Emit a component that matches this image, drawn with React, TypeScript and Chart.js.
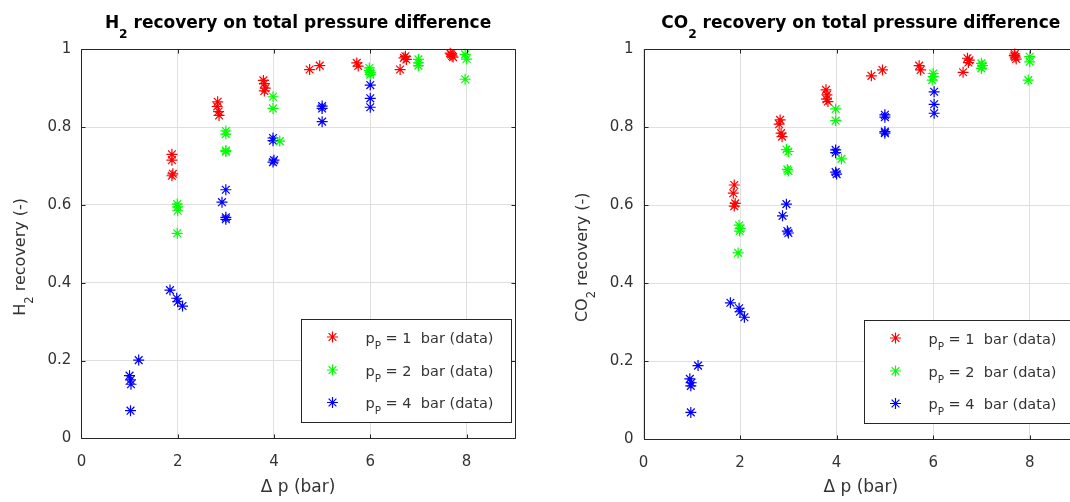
import React, { useEffect, useRef } from "react";
import { Chart, registerables } from "chart.js";

Chart.register(...registerables);

// ---------- data ----------
const xTickValues = [0, 2, 4, 6, 8];
const yTickValues = [0, 0.2, 0.4, 0.6, 0.8, 1];
const seriesColors = ["#ff0000", "#00ff00", "#0000ff"];
const permeatePressures = ["1", "2", "4"];

// H2 recovery, p_P = 1 bar
const h2P1Dp = [1.88, 1.88, 1.9, 1.88, 2.83, 2.82, 2.85, 2.86, 3.78, 3.8, 3.82, 3.8, 4.74, 4.95, 5.72, 5.75, 6.62, 6.73, 6.75, 6.7, 7.66, 7.7, 7.68, 7.72];
const h2P1Rec = [0.73, 0.715, 0.68, 0.675, 0.865, 0.853, 0.84, 0.83, 0.92, 0.912, 0.9, 0.893, 0.948, 0.958, 0.965, 0.957, 0.948, 0.982, 0.974, 0.978, 0.99, 0.983, 0.987, 0.98];
// H2 recovery, p_P = 2 bar
const h2P2Dp = [1.99, 2.0, 2.0, 1.99, 3.0, 3.0, 3.0, 3.0, 3.98, 3.98, 4.12, 5.98, 6.0, 5.98, 6.0, 7.0, 7.0, 7.0, 7.97, 8.0, 7.97];
const h2P2Rec = [0.602, 0.595, 0.585, 0.527, 0.79, 0.782, 0.74, 0.737, 0.878, 0.848, 0.764, 0.952, 0.94, 0.945, 0.935, 0.974, 0.965, 0.958, 0.987, 0.975, 0.923];
// H2 recovery, p_P = 4 bar
const h2P4Dp = [1.0, 1.02, 1.03, 1.02, 1.19, 1.84, 1.98, 2.0, 2.1, 3.0, 2.92, 3.0, 3.0, 3.98, 3.98, 4.0, 3.98, 5.0, 5.0, 5.0, 6.0, 6.0, 6.0];
const h2P4Rec = [0.161, 0.15, 0.139, 0.071, 0.201, 0.381, 0.36, 0.351, 0.34, 0.639, 0.607, 0.568, 0.563, 0.772, 0.765, 0.715, 0.71, 0.854, 0.848, 0.814, 0.908, 0.874, 0.851];

// CO2 recovery, p_P = 1 bar
const co2P1Dp = [1.88, 1.86, 1.9, 1.88, 2.83, 2.81, 2.85, 2.87, 3.78, 3.8, 3.79, 3.82, 4.72, 4.95, 5.71, 5.74, 6.62, 6.71, 6.73, 6.75, 7.69, 7.7, 7.72, 7.68];
const co2P1Rec = [0.652, 0.631, 0.605, 0.598, 0.819, 0.808, 0.785, 0.776, 0.896, 0.883, 0.872, 0.866, 0.932, 0.947, 0.958, 0.947, 0.941, 0.977, 0.966, 0.972, 0.988, 0.98, 0.975, 0.984];
// CO2 recovery, p_P = 2 bar
const co2P2Dp = [1.98, 2.0, 1.99, 1.96, 2.96, 3.0, 2.98, 3.0, 3.98, 3.98, 4.1, 6.0, 6.0, 5.98, 7.0, 7.0, 7.02, 8.0, 8.0, 7.97];
const co2P2Rec = [0.549, 0.54, 0.534, 0.478, 0.743, 0.738, 0.692, 0.688, 0.847, 0.817, 0.719, 0.938, 0.93, 0.921, 0.964, 0.951, 0.958, 0.981, 0.968, 0.921];
// CO2 recovery, p_P = 4 bar
const co2P4Dp = [0.96, 0.98, 0.98, 1.13, 0.99, 1.8, 1.98, 2.0, 2.09, 2.96, 2.88, 2.98, 3.0, 3.98, 3.98, 3.98, 4.0, 5.0, 5.0, 5.0, 5.0, 6.02, 6.02, 6.02];
const co2P4Rec = [0.155, 0.137, 0.069, 0.189, 0.145, 0.35, 0.336, 0.327, 0.313, 0.603, 0.573, 0.534, 0.529, 0.742, 0.735, 0.685, 0.68, 0.832, 0.826, 0.789, 0.785, 0.891, 0.859, 0.836];

// ---------- styling ----------
const FONT = "'DejaVu Sans', 'Liberation Sans', Arial, sans-serif";
const AXIS_COLOR = "#262626";
const TEXT_COLOR = "#333333";
const GRID_COLOR = "#dfdfdf";

type Part = { t: string; sub?: boolean };

function measureParts(ctx: CanvasRenderingContext2D, parts: Part[], size: number, weight: string) {
  let w = 0;
  for (const p of parts) {
    ctx.font = `${weight} ${p.sub ? size * 0.72 : size}px ${FONT}`;
    w += ctx.measureText(p.t).width;
  }
  return w;
}

function drawParts(
  ctx: CanvasRenderingContext2D,
  parts: Part[],
  x: number,
  y: number,
  size: number,
  weight: string,
  align: "left" | "center",
  subDrop: number
) {
  const total = measureParts(ctx, parts, size, weight);
  let cx = align === "center" ? x - total / 2 : x;
  ctx.textAlign = "left";
  ctx.textBaseline = "alphabetic";
  for (const p of parts) {
    ctx.font = `${weight} ${p.sub ? size * 0.72 : size}px ${FONT}`;
    ctx.fillText(p.t, cx, p.sub ? y + size * subDrop : y);
    cx += ctx.measureText(p.t).width;
  }
}

function drawStar(ctx: CanvasRenderingContext2D, x: number, y: number, r: number, color: string) {
  const d = Math.cos(Math.PI / 4) * r;
  ctx.save();
  ctx.strokeStyle = color;
  ctx.lineWidth = 1.2;
  ctx.beginPath();
  ctx.moveTo(x - r, y);
  ctx.lineTo(x + r, y);
  ctx.moveTo(x, y - r);
  ctx.lineTo(x, y + r);
  ctx.moveTo(x - d, y - d);
  ctx.lineTo(x + d, y + d);
  ctx.moveTo(x - d, y + d);
  ctx.lineTo(x + d, y - d);
  ctx.stroke();
  ctx.restore();
}

const decorPlugin = {
  id: "matlabDecor",
  afterDraw(chart: any, _args: any, opts: any) {
    const ctx: CanvasRenderingContext2D = chart.ctx;
    const { left, right, top, bottom } = chart.chartArea;
    const xs = chart.scales.x;
    const ys = chart.scales.y;
    const L = Math.round(left) + 0.5;
    const R = Math.round(right) + 0.5;
    const T = Math.round(top) + 0.5;
    const B = Math.round(bottom) + 0.5;
    ctx.save();
    ctx.strokeStyle = AXIS_COLOR;
    ctx.lineWidth = 1;
    ctx.beginPath();
    ctx.rect(L, T, R - L, B - T);
    const tl = 4;
    for (const v of xTickValues) {
      const px = Math.round(xs.getPixelForValue(v)) + 0.5;
      ctx.moveTo(px, B);
      ctx.lineTo(px, B - tl);
      ctx.moveTo(px, T);
      ctx.lineTo(px, T + tl);
    }
    for (const v of yTickValues) {
      const py = Math.round(ys.getPixelForValue(v)) + 0.5;
      ctx.moveTo(L, py);
      ctx.lineTo(L + tl, py);
      ctx.moveTo(R, py);
      ctx.lineTo(R - tl, py);
    }
    ctx.stroke();

    // title
    ctx.fillStyle = "#000000";
    drawParts(ctx, opts.title, (left + right) / 2, opts.titleBaseline, 17, "bold", "center", 0.55);

    // y label
    ctx.save();
    ctx.fillStyle = TEXT_COLOR;
    ctx.translate(opts.yLabelX, (top + bottom) / 2 + opts.yLabelShift);
    ctx.rotate(-Math.PI / 2);
    drawParts(ctx, opts.yLabel, 0, 0, 16, "normal", "center", 0.5);
    ctx.restore();

    // legend
    const bw = 210;
    const bh = 103;
    const bx = Math.round(right - 4 - bw) + 0.5;
    const by = Math.round(bottom - 16 - bh) + 0.5;
    ctx.fillStyle = "#ffffff";
    ctx.fillRect(bx, by, bw, bh);
    ctx.strokeStyle = AXIS_COLOR;
    ctx.strokeRect(bx, by, bw, bh);
    const rows = [17.5, 50.5, 83];
    permeatePressures.forEach((p, i) => {
      const cy = by + rows[i];
      drawStar(ctx, bx + 31, cy, 5.5, seriesColors[i]);
      ctx.fillStyle = TEXT_COLOR;
      drawParts(
        ctx,
        [{ t: "p" }, { t: "P", sub: true }, { t: ` = ${p}  bar (data)` }],
        bx + 64,
        cy + 5.5,
        14.5,
        "normal",
        "left",
        0.42
      );
    });
    ctx.restore();
  },
};

type PanelProps = {
  width: number;
  left: number;
  plotLeft: number;
  plotRightPad: number;
  plotBottom: number;
  title: Part[];
  yLabel: Part[];
  yLabelX: number;
  series: { x: number[]; y: number[] }[];
};

function Panel(props: PanelProps) {
  const ref = useRef<HTMLCanvasElement | null>(null);
  useEffect(() => {
    if (!ref.current) return;
    const H = 502;
    const datasets = props.series.map((s, i) => ({
      label: `p_P = ${permeatePressures[i]} bar (data)`,
      data: s.x.map((xv, k) => ({ x: xv, y: s.y[k] })),
      pointStyle: "star" as const,
      pointRadius: 5.5,
      pointHoverRadius: 5.5,
      borderWidth: 1.2,
      borderColor: seriesColors[i],
      backgroundColor: seriesColors[i],
      showLine: false,
      clip: false as any,
    }));
    const chart = new Chart(ref.current, {
      type: "scatter",
      data: { datasets },
      plugins: [decorPlugin],
      options: {
        animation: false,
        responsive: false,
        devicePixelRatio: 1,
        events: [],
        layout: { padding: { top: 49.3, right: props.plotRightPad, bottom: 0, left: 0 } },
        scales: {
          x: {
            type: "linear",
            min: 0,
            max: 9,
            afterFit: (s: any) => {
              s.height = H - props.plotBottom;
            },
            ticks: {
              stepSize: 2,
              includeBounds: false,
              padding: 15,
              color: TEXT_COLOR,
              font: { family: FONT, size: 15 },
              maxRotation: 0,
            },
            grid: { color: GRID_COLOR, drawTicks: false, lineWidth: 1 },
            border: { display: false },
            title: {
              display: true,
              text: "Δ p (bar)",
              color: TEXT_COLOR,
              font: { family: FONT, size: 17 },
              padding: { top: 0, bottom: 4 },
            },
          },
          y: {
            type: "linear",
            min: 0,
            max: 1,
            afterFit: (s: any) => {
              s.width = props.plotLeft;
            },
            ticks: {
              stepSize: 0.2,
              padding: 10,
              color: TEXT_COLOR,
              font: { family: FONT, size: 15 },
              callback: (v: any) => String(Number(Number(v).toFixed(1))),
            },
            grid: { color: GRID_COLOR, drawTicks: false, lineWidth: 1 },
            border: { display: false },
          },
        },
        plugins: {
          legend: { display: false },
          tooltip: { enabled: false },
          title: { display: false },
          matlabDecor: {
            title: props.title,
            titleBaseline: 28.3,
            yLabel: props.yLabel,
            yLabelX: props.yLabelX,
            yLabelShift: 13,
          },
        } as any,
      },
    });
    return () => chart.destroy();
  }, []);
  return (
    <canvas
      ref={ref}
      width={props.width}
      height={502}
      style={{ position: "absolute", left: props.left, top: 0, display: "block" }}
    />
  );
}

export default function App() {
  return (
    <div
      style={{
        position: "fixed",
        left: 0,
        top: 0,
        width: 1070,
        height: 502,
        overflow: "hidden",
        background: "#ffffff",
      }}
    >
      <Panel
        width={540}
        left={0}
        plotLeft={81.4}
        plotRightPad={25.3}
        plotBottom={438.3}
        title={[{ t: "H" }, { t: "2", sub: true }, { t: " recovery on total pressure difference" }]}
        yLabel={[{ t: "H" }, { t: "2", sub: true }, { t: " recovery (-)" }]}
        yLabelX={25}
        series={[
          { x: h2P1Dp, y: h2P1Rec },
          { x: h2P2Dp, y: h2P2Rec },
          { x: h2P4Dp, y: h2P4Rec },
        ]}
      />
      <Panel
        width={560}
        left={540}
        plotLeft={103.5}
        plotRightPad={22}
        plotBottom={439.3}
        title={[{ t: "CO" }, { t: "2", sub: true }, { t: " recovery on total pressure difference" }]}
        yLabel={[{ t: "CO" }, { t: "2", sub: true }, { t: " recovery (-)" }]}
        yLabelX={47}
        series={[
          { x: co2P1Dp, y: co2P1Rec },
          { x: co2P2Dp, y: co2P2Rec },
          { x: co2P4Dp, y: co2P4Rec },
        ]}
      />
    </div>
  );
}
